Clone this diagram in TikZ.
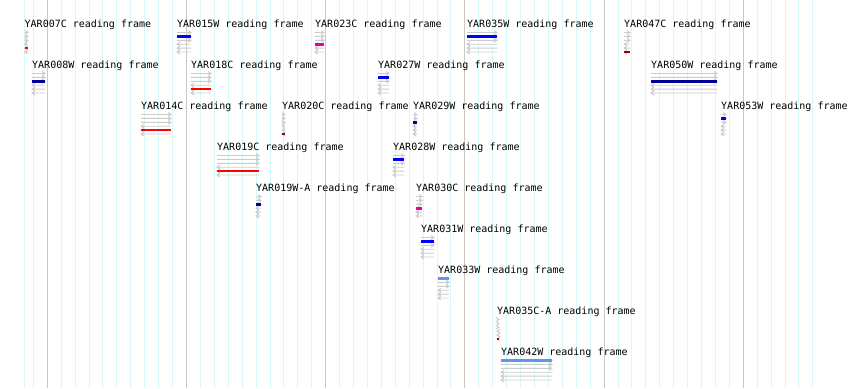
\documentclass[tikz,border=0pt]{standalone}
\usepackage{fontspec}
\setmonofont{DejaVu Sans Mono}
\definecolor{minorgrid}{HTML}{D2FAFA}
\definecolor{majorgrid}{HTML}{C8C8C8}
\definecolor{framegray}{HTML}{CCCCCC}
\definecolor{navybar}{HTML}{000099}
\definecolor{darkredbar}{HTML}{990000}
\definecolor{cornflower}{HTML}{6495ED}
\begin{document}
\begin{tikzpicture}[x=1pt,y=-1pt,
    lbl/.style={anchor=base west,inner sep=0pt,font=\ttfamily\fontsize{10}{12}\selectfont},
    frameln/.style={framegray,line width=0.9pt},
    minorln/.style={minorgrid,line width=1pt},
    majorln/.style={majorgrid,line width=1pt}]
    \useasboundingbox (0,0) rectangle (850,388);
    \fill[white] (0,0) rectangle (850,388);
    % grid
    \draw[minorln] (24.5,0) -- (24.5,388);
    \foreach \k in {-1,...,55}
        \draw[minorln] (47.3+13.92*\k,0) -- (47.3+13.92*\k,388);
    \foreach \k in {0,...,5}
        \draw[majorln] (47.3+139.2*\k,0) -- (47.3+139.2*\k,388);
    % reading frames: left/right/row/frame/colour/name
    \foreach \xl/\xr/\row/\k/\col/\gene in {
        24.5/28/0/4/red/YAR007C, 177/191/0/1/blue/YAR015W,
        315/324/0/3/magenta/YAR023C, 467/497/0/1/blue/YAR035W,
        624/630/0/5/darkredbar/YAR047C,
        32/45/1/2/navybar/YAR008W, 191/211/1/4/red/YAR018C,
        378/389/1/1/blue/YAR027W, 651/717/1/2/navybar/YAR050W,
        141/171/2/4/red/YAR014C, 282/285/2/5/darkredbar/YAR020C,
        413/417/2/2/navybar/YAR029W, 721/726/2/1/blue/YAR053W,
        217/259/3/4/red/YAR019C, 393/404/3/1/blue/YAR028W,
        256/261/4/2/navybar/YAR019W-A, 416/422/4/3/magenta/YAR030C,
        421/434/5/1/blue/YAR031W,
        438/449/6/0/cornflower/YAR033W,
        497/499/7/5/darkredbar/YAR035C-A,
        501/552/8/0/cornflower/YAR042W}{
        \pgfmathsetmacro{\ytop}{20+41*\row}
        \node[lbl] (\gene) at (\xl,\ytop+7.3) {\gene{} reading frame};
        \foreach \i in {0,1,2}{
            \pgfmathsetmacro{\yy}{\ytop+12.5+3.9*\i}
            \draw[frameln] (\xl,\yy) -- (\xr,\yy) (\xr-3,\yy-2) -- (\xr,\yy) -- (\xr-3,\yy+2);
        }
        \foreach \i in {3,4,5}{
            \pgfmathsetmacro{\yy}{\ytop+12.5+3.9*\i}
            \draw[frameln] (\xl,\yy) -- (\xr,\yy) (\xl+3,\yy-2) -- (\xl,\yy) -- (\xl+3,\yy+2);
        }
        \pgfmathsetmacro{\yb}{\ytop+12.5+3.9*\k}
        \fill[\col] (\xl,\yb-1.35) rectangle (\xr,\yb+1.35);
    }
\end{tikzpicture}
\end{document}
